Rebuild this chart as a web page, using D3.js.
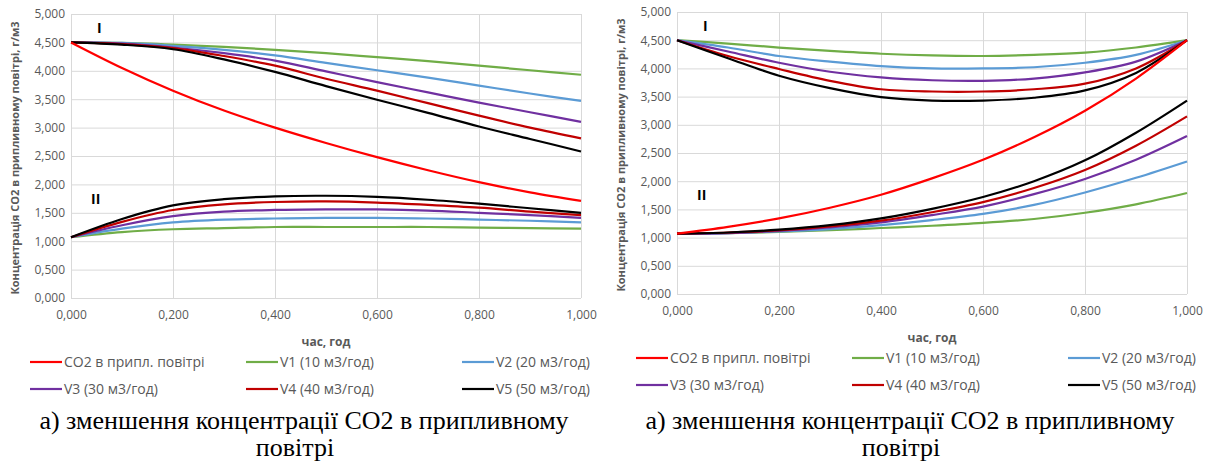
<!DOCTYPE html>
<html>
<head>
<meta charset="utf-8">
<script src="https://cdn.jsdelivr.net/npm/d3@7"></script>
<style>
  body { margin: 0; background: #fff; }
  svg { display: block; }
  .tick line { stroke: #d9d9d9; }
  .tick text { fill: #595959; font-family: "Open Sans", sans-serif; font-size: 12px; }
</style>
</head>
<body>
<svg width="1205" height="468"></svg>
<script>
// time, hours
var hours = [0, 0.1, 0.2, 0.3, 0.4, 0.5, 0.6, 0.7, 0.8, 0.9, 1.0];
var xTicks = [0, 0.2, 0.4, 0.6, 0.8, 1.0];
var yTicks = [0, 0.5, 1, 1.5, 2, 2.5, 3, 3.5, 4, 4.5, 5];
var seriesNames = ['CO2 в припл. повітрі', 'V1 (10 м3/год)', 'V2 (20 м3/год)',
                   'V3 (30 м3/год)', 'V4 (40 м3/год)', 'V5 (50 м3/год)'];

// left chart: CO2 in supply air falls
var leftCO2   = [4.50, 4.05, 3.65, 3.30, 3.00, 2.73, 2.48, 2.25, 2.04, 1.86, 1.71];
var leftV1_I  = [4.50, 4.49, 4.46, 4.42, 4.37, 4.31, 4.24, 4.17, 4.09, 4.01, 3.93];
var leftV2_I  = [4.50, 4.49, 4.44, 4.37, 4.27, 4.14, 4.01, 3.88, 3.74, 3.60, 3.47];
var leftV3_I  = [4.50, 4.48, 4.41, 4.31, 4.18, 3.99, 3.80, 3.62, 3.44, 3.27, 3.10];
var leftV4_I  = [4.50, 4.47, 4.40, 4.26, 4.09, 3.86, 3.65, 3.43, 3.21, 3.00, 2.81];
var leftV5_I  = [4.50, 4.46, 4.38, 4.20, 3.98, 3.73, 3.49, 3.26, 3.02, 2.80, 2.58];
var leftV1_II = [1.07, 1.16, 1.21, 1.23, 1.25, 1.25, 1.25, 1.25, 1.24, 1.23, 1.22];
var leftV2_II = [1.07, 1.22, 1.33, 1.38, 1.40, 1.41, 1.41, 1.40, 1.38, 1.36, 1.33];
var leftV3_II = [1.07, 1.28, 1.44, 1.52, 1.55, 1.56, 1.56, 1.54, 1.50, 1.46, 1.41];
var leftV4_II = [1.07, 1.34, 1.55, 1.65, 1.69, 1.70, 1.68, 1.64, 1.59, 1.52, 1.46];
var leftV5_II = [1.07, 1.39, 1.63, 1.74, 1.79, 1.80, 1.78, 1.73, 1.66, 1.58, 1.50];

// right chart: CO2 in supply air rises
var rightCO2   = [1.07, 1.19, 1.34, 1.53, 1.76, 2.05, 2.38, 2.78, 3.25, 3.82, 4.50];
var rightV1_I  = [4.50, 4.44, 4.37, 4.31, 4.26, 4.23, 4.22, 4.24, 4.28, 4.37, 4.50];
var rightV2_I  = [4.50, 4.37, 4.22, 4.12, 4.04, 4.00, 4.00, 4.02, 4.10, 4.24, 4.50];
var rightV3_I  = [4.50, 4.30, 4.10, 3.94, 3.84, 3.79, 3.78, 3.82, 3.93, 4.12, 4.50];
var rightV4_I  = [4.50, 4.22, 3.99, 3.78, 3.63, 3.59, 3.59, 3.63, 3.73, 4.00, 4.50];
var rightV5_I  = [4.50, 4.18, 3.87, 3.65, 3.49, 3.43, 3.43, 3.48, 3.61, 3.92, 4.50];
var rightV1_II = [1.07, 1.08, 1.10, 1.13, 1.17, 1.21, 1.26, 1.33, 1.44, 1.59, 1.79];
var rightV2_II = [1.07, 1.08, 1.11, 1.15, 1.22, 1.31, 1.42, 1.58, 1.80, 2.06, 2.35];
var rightV3_II = [1.07, 1.08, 1.12, 1.18, 1.27, 1.40, 1.55, 1.77, 2.04, 2.38, 2.80];
var rightV4_II = [1.07, 1.09, 1.13, 1.20, 1.30, 1.45, 1.63, 1.88, 2.20, 2.63, 3.15];
var rightV5_II = [1.07, 1.09, 1.14, 1.22, 1.34, 1.51, 1.72, 2.00, 2.37, 2.86, 3.43];

var colors = ['#ff0000', '#70ad47', '#5b9bd5', '#7030a0', '#c00000', '#000000'];

var fmt = d3.formatLocale({decimal: ',', thousands: ' ', grouping: [3], currency: ['', '']}).format('.3f');
var svg = d3.select('svg');
svg.append('rect').attr('width', 1205).attr('height', 468).attr('fill', '#fff');

function drawPanel (p) {
    var x = d3.scaleLinear().domain([0, 1]).range([p.x0, p.x1]),
        y = d3.scaleLinear().domain([0, 5]).range([p.y1, p.y0]);

    var g = svg.append('g');

    g.append('g')
        .attr('transform', 'translate(' + p.x0 + ',0)')
        .call(d3.axisLeft(y).tickValues(yTicks).tickSize(-(p.x1 - p.x0)).tickPadding(6).tickFormat(fmt))
        .call(function (a) { a.select('.domain').remove(); });

    g.append('g')
        .attr('transform', 'translate(0,' + p.y1 + ')')
        .call(d3.axisBottom(x).tickValues(xTicks).tickSize(-(p.y1 - p.y0)).tickPadding(12).tickFormat(fmt))
        .call(function (a) { a.select('.domain').remove(); });

    var line = d3.line()
        .x(function (d, i) { return x(hours[i]); })
        .y(function (d) { return y(d); })
        .curve(d3.curveCatmullRom.alpha(0.5));

    p.series.forEach(function (s) {
        g.append('path')
            .attr('d', line(s.values))
            .attr('fill', 'none')
            .attr('stroke', colors[s.c])
            .attr('stroke-width', 2.2);
    });

    // group labels
    g.append('text').attr('x', p.x0 + 26).attr('y', y(4.75) + 5).text('I')
        .attr('font-family', 'Open Sans').attr('font-weight', 'bold').attr('font-size', 14);
    g.append('text').attr('x', p.x0 + 20).attr('y', y(1.75) + 5).text('II')
        .attr('font-family', 'Open Sans').attr('font-weight', 'bold').attr('font-size', 14);

    // axis titles
    g.append('text')
        .attr('transform', 'translate(' + (p.x0 - 52) + ',' + ((p.y0 + p.y1) / 2 + 2) + ') rotate(-90)')
        .attr('text-anchor', 'middle')
        .attr('font-family', 'Open Sans').attr('font-weight', 'bold').attr('font-size', 11)
        .attr('fill', '#595959')
        .text('Концентрація СО2  в припливному повітрі, г/м3');
    g.append('text')
        .attr('x', (p.x0 + p.x1) / 2).attr('y', p.y1 + 48)
        .attr('text-anchor', 'middle')
        .attr('font-family', 'Open Sans').attr('font-weight', 'bold').attr('font-size', 12)
        .attr('fill', '#595959')
        .text('час, год');

    // legend, 3 columns x 2 rows
    seriesNames.forEach(function (name, i) {
        var lx = p.x0 - 41 + (i % 3) * 216,
            ly = p.y1 + 64 + Math.floor(i / 3) * 27;
        g.append('line').attr('x1', lx).attr('x2', lx + 32).attr('y1', ly).attr('y2', ly)
            .attr('stroke', colors[i]).attr('stroke-width', 2.2);
        g.append('text').attr('x', lx + 34).attr('y', ly + 5)
            .attr('font-family', 'Open Sans').attr('font-size', 14).attr('fill', '#595959')
            .text(name);
    });

    // caption
    var cx = (p.x0 + p.x1) / 2 - 22;
    g.append('text').attr('x', cx).attr('y', 429).attr('text-anchor', 'middle')
        .attr('font-family', 'Liberation Serif').attr('font-size', 26)
        .text('а) зменшення концентрації СО2 в припливному');
    g.append('text').attr('x', cx - 9).attr('y', 456).attr('text-anchor', 'middle')
        .attr('font-family', 'Liberation Serif').attr('font-size', 26)
        .text('повітрі');
}

drawPanel({
    x0: 71, x1: 581, y0: 14, y1: 298,
    series: [
        {values: leftV1_I, c: 1}, {values: leftV2_I, c: 2}, {values: leftV3_I, c: 3},
        {values: leftV4_I, c: 4}, {values: leftV5_I, c: 5},
        {values: leftV1_II, c: 1}, {values: leftV2_II, c: 2}, {values: leftV3_II, c: 3},
        {values: leftV4_II, c: 4}, {values: leftV5_II, c: 5},
        {values: leftCO2, c: 0}
    ]
});

drawPanel({
    x0: 677, x1: 1187, y0: 12, y1: 294,
    series: [
        {values: rightV1_I, c: 1}, {values: rightV2_I, c: 2}, {values: rightV3_I, c: 3},
        {values: rightV4_I, c: 4}, {values: rightV5_I, c: 5},
        {values: rightV1_II, c: 1}, {values: rightV2_II, c: 2}, {values: rightV3_II, c: 3},
        {values: rightV4_II, c: 4}, {values: rightV5_II, c: 5},
        {values: rightCO2, c: 0}
    ]
});
</script>
</body>
</html>
